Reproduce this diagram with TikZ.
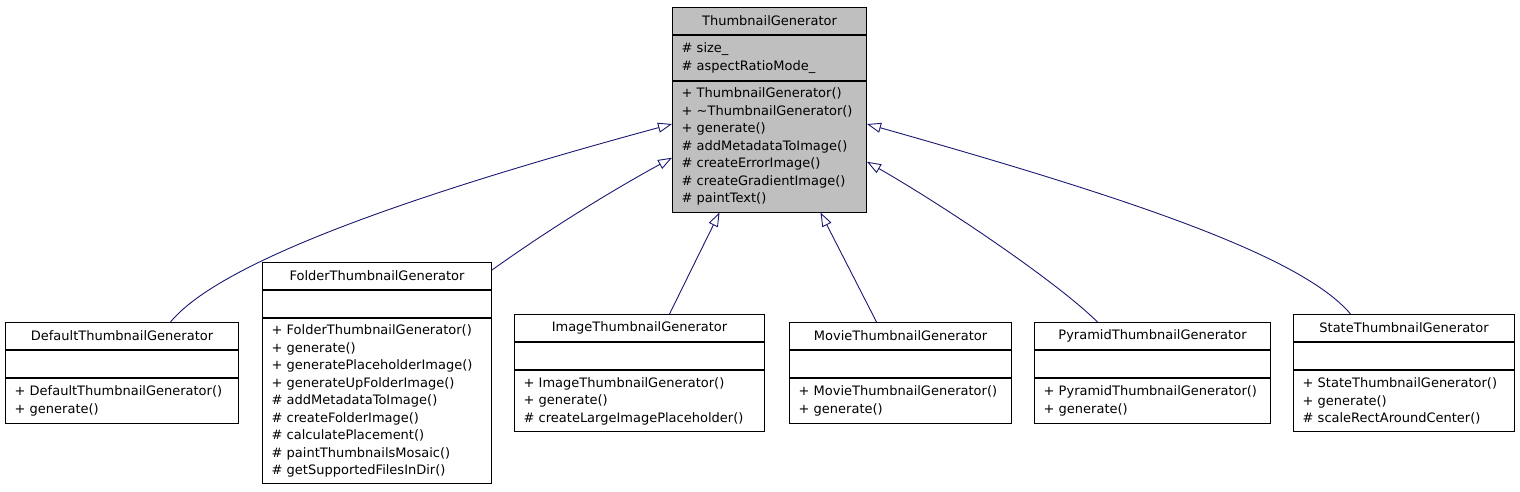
\documentclass[tikz,border=0pt]{standalone}
\usepackage{fontspec}
\setmainfont{DejaVu Sans}
\usepackage{xcolor}
\usetikzlibrary{arrows.meta, positioning}
\definecolor{edgeblue}{HTML}{191970}
\definecolor{basegray}{HTML}{BFBFBF}

\begin{document}
\begin{tikzpicture}[
    x=1pt, y=-1pt,
    font=\fontsize{13pt}{17.5pt}\selectfont,
    clshead/.style={draw, rectangle, line width=1pt, inner xsep=9pt, inner ysep=1pt, align=center, text width=#1, minimum height=27pt},
    clsbody/.style={draw, rectangle, line width=1pt, inner xsep=9pt, inner ysep=1pt, align=left, text width=#1},
    arrow/.style={draw=edgeblue, line width=0.9pt, -{Triangle[length=14pt, width=10pt, fill=white]}}
]
\useasboundingbox (0,0) rectangle (1520,491);

% Base class
\node[clshead=176pt, fill=basegray, anchor=north west] (base) at (672,7) {ThumbnailGenerator};
\node[clsbody=176pt, fill=basegray, minimum height=45pt, below=0pt of base] (baseattr)
{\# size\_\\\# aspectRatioMode\_};
\node[clsbody=176pt, fill=basegray, minimum height=130.5pt, below=0pt of baseattr] (baseops)
{+ ThumbnailGenerator()\\+ \textasciitilde ThumbnailGenerator()\\+ generate()\\\# addMetadataToImage()\\\# createErrorImage()\\\# createGradientImage()\\\# paintText()};

% Default
\node[clshead=215pt, anchor=north west] (dflt) at (5,322) {DefaultThumbnailGenerator};
\node[clsbody=215pt, minimum height=27pt, below=0pt of dflt] (dfltattr) {};
\node[clsbody=215pt, minimum height=45pt, below=0pt of dfltattr] (dfltops)
{+ DefaultThumbnailGenerator()\\+ generate()};

% Folder
\node[clshead=211pt, anchor=north west] (fold) at (262,262) {FolderThumbnailGenerator};
\node[clsbody=211pt, minimum height=27pt, below=0pt of fold] (foldattr) {};
\node[clsbody=211pt, minimum height=165pt, below=0pt of foldattr] (foldops)
{+ FolderThumbnailGenerator()\\+ generate()\\+ generatePlaceholderImage()\\+ generateUpFolderImage()\\\# addMetadataToImage()\\\# createFolderImage()\\\# calculatePlacement()\\\# paintThumbnailsMosaic()\\\# getSupportedFilesInDir()};

% Image
\node[clshead=232pt, anchor=north west] (img) at (514,314) {ImageThumbnailGenerator};
\node[clsbody=232pt, minimum height=27pt, below=0pt of img] (imgattr) {};
\node[clsbody=232pt, minimum height=61pt, below=0pt of imgattr] (imgops)
{+ ImageThumbnailGenerator()\\+ generate()\\\# createLargeImagePlaceholder()};

% Movie
\node[clshead=204pt, anchor=north west] (movie) at (789,322) {MovieThumbnailGenerator};
\node[clsbody=204pt, minimum height=27pt, below=0pt of movie] (movieattr) {};
\node[clsbody=204pt, minimum height=45pt, below=0pt of movieattr] (movieops)
{+ MovieThumbnailGenerator()\\+ generate()};

% Pyramid
\node[clshead=218pt, anchor=north west] (pyr) at (1034,322) {PyramidThumbnailGenerator};
\node[clsbody=218pt, minimum height=27pt, below=0pt of pyr] (pyrattr) {};
\node[clsbody=218pt, minimum height=45pt, below=0pt of pyrattr] (pyrops)
{+ PyramidThumbnailGenerator()\\+ generate()};

% State
\node[clshead=203pt, anchor=north west] (state) at (1293,314) {StateThumbnailGenerator};
\node[clsbody=203pt, minimum height=27pt, below=0pt of state] (stateattr) {};
\node[clsbody=203pt, minimum height=61pt, below=0pt of stateattr] (stateops)
{+ StateThumbnailGenerator()\\+ generate()\\\# scaleRectAroundCenter()};

% Inheritance
\draw[arrow] ([xshift=48.5pt]dflt.north) .. controls (220,262) and (410,195) .. ([yshift=22.75pt]baseops.west);
\draw[arrow] ([yshift=6pt]fold.east) .. controls (541,235) and (602,196) .. ([yshift=-11pt]baseops.west);
\draw[arrow] ([xshift=30pt]img.north) -- ([xshift=-50pt]baseops.south);
\draw[arrow] ([xshift=-24pt]movie.north) -- ([xshift=51pt]baseops.south);
\draw[arrow] ([xshift=-55pt]pyr.north) .. controls (1057,282) and (946,207) .. ([yshift=-15pt]baseops.east);
\draw[arrow] ([xshift=-53.5pt]state.north) .. controls (1300,254) and (1118,195) .. ([yshift=22.75pt]baseops.east);

\end{tikzpicture}
\end{document}
